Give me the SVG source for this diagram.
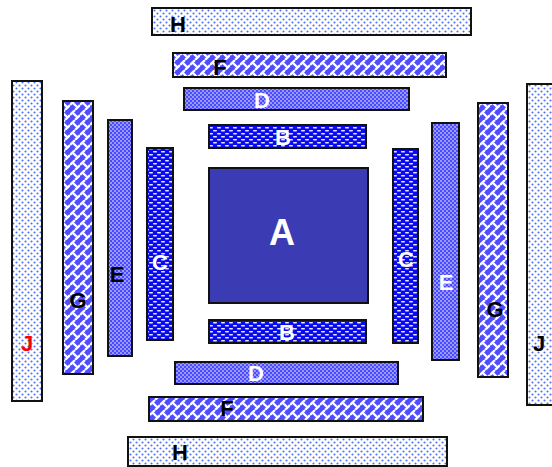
<svg xmlns="http://www.w3.org/2000/svg" width="552" height="467" viewBox="0 0 552 467">
<defs>
<pattern id="dots" width="6" height="6" patternUnits="userSpaceOnUse">
<rect width="6" height="6" fill="#ffffff"/>
<circle cx="1.5" cy="1.5" r="1.05" fill="#4f72f2"/>
<circle cx="4.5" cy="4.5" r="1.05" fill="#4f72f2"/>
</pattern>
<pattern id="weave" width="10" height="10" patternUnits="userSpaceOnUse">
<rect width="10" height="10" fill="#4e4eff"/>
<path d="M0 5 L5 0 M5 10 L10 5 M2.5 2.5 L7.5 7.5" stroke="#ffffff" stroke-width="2.3" fill="none"/>
</pattern>
<pattern id="check" width="4" height="4" patternUnits="userSpaceOnUse">
<rect width="4" height="4" fill="#4a4aff"/>
<rect x="0" y="0" width="2" height="2" fill="#9898ff"/>
<rect x="2" y="2" width="2" height="2" fill="#9898ff"/>
</pattern>
<pattern id="dash" width="8" height="6" patternUnits="userSpaceOnUse">
<rect width="8" height="6" fill="#0a0aee"/>
<rect x="1" y="1" width="4" height="1.4" rx="0.7" fill="#e6e6ff"/>
<rect x="5" y="4" width="4" height="1.4" rx="0.7" fill="#e6e6ff"/>
<rect x="-3" y="4" width="4" height="1.4" rx="0.7" fill="#e6e6ff"/>
</pattern>
</defs>
<style>
.box{stroke:#111;stroke-width:2}
.t{font-family:"Liberation Sans",Arial,sans-serif;font-weight:bold;font-size:22px;text-anchor:middle;dominant-baseline:central}
.w{fill:#fff}
.k{fill:#000}
</style>
<g id="H-top"><rect class="box" x="152" y="8" width="319" height="27" fill="url(#dots)"/><text class="t k" x="178" y="24">H</text></g>
<g id="F-top"><rect class="box" x="173" y="53" width="273" height="24" fill="url(#weave)"/><text class="t k" x="220" y="67">F</text></g>
<g id="D-top"><rect class="box" x="184" y="88" width="225" height="22" fill="url(#check)"/><text class="t w" x="262" y="100">D</text></g>
<g id="B-top"><rect class="box" x="209" y="125" width="157" height="23" fill="url(#dash)"/><text class="t w" x="283" y="137">B</text></g>
<g id="A"><rect class="box" x="209" y="168" width="159" height="135" fill="#3b3bb3"/><text class="t w" x="282" y="232" style="font-size:36px">A</text></g>
<g id="B-bottom"><rect class="box" x="209" y="320" width="157" height="23" fill="url(#dash)"/><text class="t w" x="287" y="332">B</text></g>
<g id="D-bottom"><rect class="box" x="175" y="362" width="223" height="22" fill="url(#check)"/><text class="t w" x="256" y="373">D</text></g>
<g id="F-bottom"><rect class="box" x="149" y="397" width="274" height="24" fill="url(#weave)"/><text class="t k" x="227" y="408">F</text></g>
<g id="H-bottom"><rect class="box" x="128" y="437" width="319" height="29" fill="url(#dots)"/><text class="t k" x="180" y="452">H</text></g>
<g id="J-left"><rect class="box" x="12" y="81" width="30" height="320" fill="url(#dots)"/><text class="t" x="27" y="343" fill="#ff0000">J</text></g>
<g id="G-left"><rect class="box" x="63" y="101" width="30" height="273" fill="url(#weave)"/><text class="t k" x="78" y="300">G</text></g>
<g id="E-left"><rect class="box" x="108" y="120" width="24" height="236" fill="url(#check)"/><text class="t k" x="117" y="274">E</text></g>
<g id="C-left"><rect class="box" x="147" y="148" width="26" height="192" fill="url(#dash)"/><text class="t w" x="160" y="262">C</text></g>
<g id="C-right"><rect class="box" x="393" y="149" width="25" height="194" fill="url(#dash)"/><text class="t w" x="406" y="259">C</text></g>
<g id="E-right"><rect class="box" x="432" y="123" width="27" height="237" fill="url(#check)"/><text class="t w" x="446" y="282">E</text></g>
<g id="G-right"><rect class="box" x="478" y="103" width="30" height="274" fill="url(#weave)"/><text class="t k" x="495" y="309">G</text></g>
<g id="J-right"><rect class="box" x="527" y="84" width="30" height="321" fill="url(#dots)"/><text class="t k" x="539" y="343">J</text></g>
<g id="connectors"></g>
</svg>
